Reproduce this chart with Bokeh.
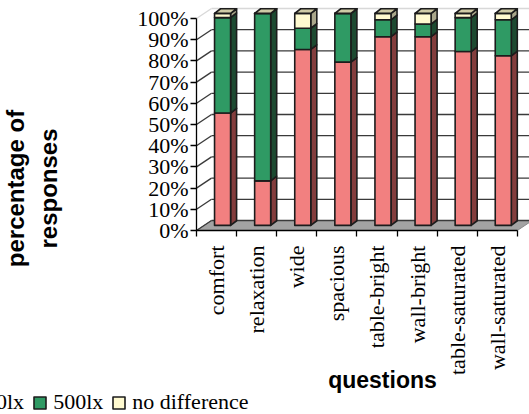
import math
from bokeh.plotting import figure
from bokeh.models import Range1d, FixedTicker, Label, Legend, LegendItem
from bokeh.embed import file_html
from bokeh.resources import INLINE

# survey data: share of responses (%) per question
questions = ["comfort", "relaxation", "wide", "spacious",
             "table-bright", "wall-bright", "table-saturated", "wall-saturated"]
lx1000 = [53, 21, 83, 77, 89, 89, 82, 80]
lx500 = [45, 79, 10, 23, 8, 6, 16, 17]
no_diff = [2, 0, 7, 0, 3, 5, 2, 3]
series_names = ["1000lx", "500lx", "no difference"]
y_ticks = [0, 10, 20, 30, 40, 50, 60, 70, 80, 90, 100]

# canvas / scale: the frame covers the whole canvas, the axes sit at the origin
W, H = 529, 414
ORIGIN_X, ORIGIN_Y = 196, 230          # canvas pixel of (0, 0%)
PX_CAT = 40.1                          # pixels per category
PX_PCT = 2.12                          # pixels per percent


def px_x(px):
    return (px - ORIGIN_X) / PX_CAT


def px_y(py):
    return (ORIGIN_Y - py) / PX_PCT


# oblique projection of the back wall and of the bar depth
WALL_DX, WALL_DY = 15 / PX_CAT, 10 / PX_PCT
BAR_LEFT, BAR_W = 0.45, 0.40
BAR_Y0 = 2.4
BAR_DX, BAR_DY = 0.15, 2.2

n = len(questions)
p = figure(width=W, height=H, output_backend="svg", toolbar_location=None,
           x_range=Range1d(px_x(0), px_x(W)), y_range=Range1d(px_y(H), px_y(0)),
           min_border=0, outline_line_color=None,
           background_fill_color="white", border_fill_color="white")
p.grid.visible = False

# floor
p.patch([0, n, n + WALL_DX, WALL_DX], [0, 0, WALL_DY, WALL_DY],
        fill_color="#A3A3A3", line_color="#8a8a8a", line_width=1)

# back-wall gridlines and side-wall slants
for v in y_ticks:
    col = "#d8d8d8" if v == 100 else "#3a3a3a"
    p.segment(x0=[WALL_DX], y0=[v + WALL_DY], x1=[n + WALL_DX], y1=[v + WALL_DY],
              line_color=col, line_width=1.3)
    p.segment(x0=[0], y0=[v], x1=[WALL_DX], y1=[v + WALL_DY],
              line_color=col, line_width=1.3)

front_cols = ["#F28080", "#2F9A64", "#FFFAD0"]
side_cols = ["#833D3D", "#1D4A31", "#A9A68A"]
top_col = "#CFCBA6"
edge = "#1c1c1c"

series = [lx1000, lx500, no_diff]
base = [0.0] * n
front_renderers = []
for k, vals in enumerate(series):
    left = [i + BAR_LEFT for i in range(n)]
    right = [l + BAR_W for l in left]
    bottom = [BAR_Y0 + b for b in base]
    top = [BAR_Y0 + b + v for b, v in zip(base, vals)]
    # side face
    xs = [[r, r + BAR_DX, r + BAR_DX, r] for r in right]
    ys = [[b, b + BAR_DY, t + BAR_DY, t] for b, t in zip(bottom, top)]
    p.patches(xs, ys, fill_color=side_cols[k], line_color=edge, line_width=1.6,
              line_join="round")
    # front face
    r = p.quad(left=left, right=right, bottom=bottom, top=top,
               fill_color=front_cols[k], line_color=edge, line_width=1.6,
               line_join="round")
    front_renderers.append(r)
    if k == len(series) - 1:
        xs = [[l, r_, r_ + BAR_DX, l + BAR_DX] for l, r_ in zip(left, right)]
        ys = [[t, t, t + BAR_DY, t + BAR_DY] for t in top]
        p.patches(xs, ys, fill_color=top_col, line_color=edge, line_width=1.6,
                  line_join="round")
    base = [b + v for b, v in zip(base, vals)]

# y axis at x = 0
ya = p.yaxis[0]
ya.fixed_location = 0
ya.bounds = (0, 100)
ya.ticker = FixedTicker(ticks=y_ticks)
ya.major_label_overrides = {v: f"{v}%" for v in y_ticks}
ya.major_label_text_font = "Liberation Serif"
ya.major_label_text_font_size = "22px"
ya.major_label_text_color = "black"
ya.major_label_standoff = 2
ya.major_tick_out = 6
ya.major_tick_in = 0
ya.minor_tick_line_color = None
ya.axis_line_color = "black"
ya.axis_line_width = 1.3
ya.major_tick_line_width = 1.3

# x axis at y = 0: labels at category centres, ticks at boundaries
xa = p.xaxis[0]
xa.fixed_location = 0
xa.bounds = (0, n)
centers = [i + 0.5 for i in range(n)]
xa.ticker = FixedTicker(ticks=centers, minor_ticks=list(range(n + 1)))
xa.major_label_overrides = {c: q for c, q in zip(centers, questions)}
xa.major_label_orientation = math.pi / 2
xa.major_label_text_font = "Liberation Serif"
xa.major_label_text_font_size = "22px"
xa.major_label_text_color = "black"
xa.major_label_standoff = 9
xa.major_tick_line_color = None
xa.major_tick_out = 0
xa.major_tick_in = 0
xa.minor_tick_out = 6
xa.minor_tick_in = 0
xa.minor_tick_line_color = "black"
xa.minor_tick_line_width = 1.3
xa.axis_line_color = "black"
xa.axis_line_width = 1.3

# axis titles
p.add_layout(Label(x=px_x(31.5), y=px_y(188),
                   text="percentage of\nresponses", angle=math.pi / 2,
                   text_align="center", text_baseline="middle",
                   text_font="Liberation Sans", text_font_style="bold",
                   text_font_size="24px", text_color="black", text_line_height=1.2))
p.add_layout(Label(x=px_x(382), y=px_y(379),
                   text="questions", text_align="center", text_baseline="middle",
                   text_font="Liberation Sans", text_font_style="bold",
                   text_font_size="23px", text_color="black"))

legend = Legend(items=[LegendItem(label=name, renderers=[r])
                       for name, r in zip(series_names, front_renderers)],
                orientation="horizontal", location=(-58, -1),
                glyph_width=15, glyph_height=15, label_standoff=6, spacing=8,
                padding=0, margin=0, border_line_color=None,
                background_fill_alpha=0,
                label_text_font="Liberation Serif", label_text_font_size="22px",
                label_text_color="black")
p.add_layout(legend, "center")

open("out.html", "w").write(file_html(p, INLINE))
